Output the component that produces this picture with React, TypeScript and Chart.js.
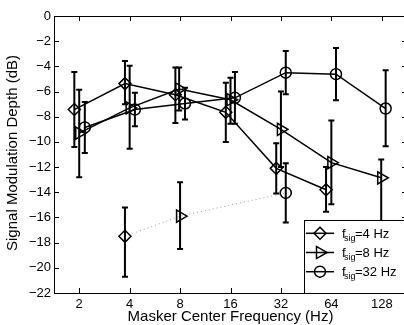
import React, { useEffect, useRef } from "react";
import { Chart, registerables } from "chart.js";

Chart.register(...registerables);

// ---- data ----
const FREQ_TICKS = [2, 4, 8, 16, 32, 64, 128];
const Y_MIN = -22;
const Y_MAX = 0;
const Y_STEP = 2;

const X_LABEL = "Masker Center Frequency (Hz)";
const Y_LABEL = "Signal Modulation Depth (dB)";

// f_sig = 4 Hz (diamond)
const f4X = [1.87, 3.75, 7.5, 15, 30, 59.5];
const f4Y = [-7.43, -5.37, -6.25, -7.65, -12.1, -13.8];
const f4Lo = [-10.4, -7.0, -8.5, -10.0, -14.1, -15.55];
const f4Hi = [-4.45, -3.57, -4.1, -5.3, -10.1, -12.0];

// f_sig = 8 Hz (right triangle)
const f8X = [2, 4, 7.9, 16, 32, 64, 127];
const f8Y = [-9.3, -7.3, -5.8, -6.65, -9.0, -11.65, -12.85];
const f8Lo = [-12.8, -10.55, -7.5, -8.55, -12.0, -14.95, -16.8];
const f8Hi = [-5.85, -3.95, -4.1, -4.9, -6.0, -8.3, -11.4];

// f_sig = 32 Hz (circle)
const f32X = [2.16, 4.3, 8.56, 17.0, 34.2, 68.2, 135];
const f32Y = [-8.85, -7.43, -6.95, -6.5, -4.5, -4.62, -7.35];
const f32Lo = [-10.88, -8.76, -8.23, -8.55, -6.22, -6.7, -10.35];
const f32Hi = [-6.83, -6.1, -5.69, -4.45, -2.78, -2.54, -4.31];

// reference points (dotted gray)
const refX = [3.75, 8, 34.2];
const refY = [-17.5, -15.9, -14.05];
const refLo = [-20.7, -18.5, -16.4];
const refHi = [-15.2, -13.2, -11.7];

const LEGEND_NAMES = ["4 Hz", "8 Hz", "32 Hz"];

const FONT = '"Liberation Sans", Arial, Helvetica, sans-serif';

const pts = (xs: number[], ys: number[]) => xs.map((x, i) => ({ x, y: ys[i] }));

function drawMarker(ctx: CanvasRenderingContext2D, kind: string, x: number, y: number) {
  ctx.beginPath();
  if (kind === "diamond") {
    const r = 6;
    ctx.moveTo(x, y - r);
    ctx.lineTo(x + r, y);
    ctx.lineTo(x, y + r);
    ctx.lineTo(x - r, y);
    ctx.closePath();
  } else if (kind === "triangle") {
    const r = 7;
    for (let k = 0; k < 3; k++) {
      const a = (k * 2 * Math.PI) / 3;
      const px = x + Math.cos(a) * r;
      const py = y + Math.sin(a) * r;
      if (k === 0) ctx.moveTo(px, py);
      else ctx.lineTo(px, py);
    }
    ctx.closePath();
  } else {
    ctx.arc(x, y, 5.5, 0, Math.PI * 2);
  }
  ctx.stroke();
}

const decorPlugin = {
  id: "decor",
  afterDatasetsDraw(chart: any) {
    const ctx: CanvasRenderingContext2D = chart.ctx;
    const xs = chart.scales.x;
    const ys = chart.scales.y;
    const area = chart.chartArea;
    ctx.save();
    // error bars
    ctx.strokeStyle = "#000";
    ctx.lineWidth = 2;
    chart.data.datasets.forEach((ds: any) => {
      ds.data.forEach((p: any, i: number) => {
        const px = xs.getPixelForValue(p.x);
        const y1 = ys.getPixelForValue(ds.errLo[i]);
        const y2 = ys.getPixelForValue(ds.errHi[i]);
        ctx.beginPath();
        ctx.moveTo(px, y1);
        ctx.lineTo(px, y2);
        ctx.moveTo(px - 3, y1);
        ctx.lineTo(px + 3, y1);
        ctx.moveTo(px - 3, y2);
        ctx.lineTo(px + 3, y2);
        ctx.stroke();
      });
    });

    // frame
    ctx.lineWidth = 1;
    ctx.strokeStyle = "#000";
    ctx.strokeRect(area.left + 0.5, area.top + 0.5, area.right - area.left, area.bottom - area.top);
    const tl = 5;
    ctx.beginPath();
    FREQ_TICKS.forEach((v) => {
      const px = Math.round(xs.getPixelForValue(v)) + 0.5;
      ctx.moveTo(px, area.bottom);
      ctx.lineTo(px, area.bottom - tl);
      ctx.moveTo(px, area.top);
      ctx.lineTo(px, area.top + tl);
    });
    for (let v = Y_MIN; v <= Y_MAX; v += Y_STEP) {
      const py = Math.round(ys.getPixelForValue(v)) + 0.5;
      ctx.moveTo(area.left, py);
      ctx.lineTo(area.left + tl, py);
      ctx.moveTo(area.right, py);
      ctx.lineTo(area.right - tl, py);
    }
    ctx.stroke();

    // axis titles
    ctx.fillStyle = "#000";
    ctx.font = `15px ${FONT}`;
    ctx.textAlign = "center";
    ctx.textBaseline = "alphabetic";
    ctx.fillText(X_LABEL, (area.left + area.right) / 2, 320.5);
    ctx.save();
    ctx.translate(17, 153);
    ctx.rotate(-Math.PI / 2);
    ctx.fillText(Y_LABEL, 0, 0);
    ctx.restore();

    // legend
    const lx = 304;
    const ly = 220;
    ctx.fillStyle = "#fff";
    ctx.fillRect(lx, ly, area.right - lx, area.bottom - ly);
    ctx.strokeStyle = "#000";
    ctx.lineWidth = 1;
    ctx.strokeRect(lx + 0.5, ly + 0.5, area.right - lx, area.bottom - ly);
    const kinds = ["diamond", "triangle", "circle"];
    const rows = [233.3, 252.5, 271.7];
    kinds.forEach((k, i) => {
      const cy = rows[i];
      ctx.strokeStyle = "#000";
      ctx.lineWidth = 1.5;
      ctx.beginPath();
      ctx.moveTo(306, cy);
      ctx.lineTo(334, cy);
      ctx.stroke();
      drawMarker(ctx, k, 320, cy);
      ctx.fillStyle = "#000";
      ctx.textAlign = "left";
      ctx.textBaseline = "alphabetic";
      ctx.font = `13px ${FONT}`;
      ctx.fillText("f", 342, cy + 4.5);
      ctx.font = `9px ${FONT}`;
      ctx.fillText("sig", 344, cy + 7.5);
      ctx.font = `13px ${FONT}`;
      ctx.fillText("=" + LEGEND_NAMES[i], 355, cy + 4.5);
    });
    ctx.restore();
  },
};

export default function App() {
  const ref = useRef<HTMLCanvasElement>(null);
  useEffect(() => {
    if (!ref.current) return;
    const common = {
      showLine: true,
      borderColor: "#000",
      borderWidth: 1.5,
      pointBorderColor: "#000",
      pointBackgroundColor: "rgba(0,0,0,0)",
      pointBorderWidth: 1.5,
    };
    const chart = new Chart(ref.current, {
      type: "scatter",
      data: {
        datasets: [
          {
            ...common,
            label: "ref",
            data: pts(refX, refY),
            borderColor: "#9a9a9a",
            borderWidth: 1,
            borderDash: [1, 3],
            pointStyle: ["rectRot", "triangle", "circle"],
            pointRotation: [0, 90, 0],
            pointRadius: [6, 7, 5.5],
            errLo: refLo,
            errHi: refHi,
          } as any,
          {
            ...common,
            label: "4 Hz",
            data: pts(f4X, f4Y),
            pointStyle: "rectRot",
            pointRadius: 6,
            errLo: f4Lo,
            errHi: f4Hi,
          } as any,
          {
            ...common,
            label: "8 Hz",
            data: pts(f8X, f8Y),
            pointStyle: "triangle",
            pointRotation: 90,
            pointRadius: 7,
            errLo: f8Lo,
            errHi: f8Hi,
          } as any,
          {
            ...common,
            label: "32 Hz",
            data: pts(f32X, f32Y),
            pointStyle: "circle",
            pointRadius: 5.5,
            errLo: f32Lo,
            errHi: f32Hi,
          } as any,
        ],
      },
      options: {
        animation: false,
        responsive: false,
        devicePixelRatio: 1,
        layout: { padding: { left: 8, top: 16, right: 13, bottom: 0 } },
        plugins: { legend: { display: false }, tooltip: { enabled: false } },
        scales: {
          x: {
            type: "logarithmic",
            min: Math.SQRT2,
            max: 128 * Math.SQRT2,
            afterBuildTicks: (s: any) => {
              s.ticks = FREQ_TICKS.map((v) => ({ value: v }));
            },
            afterFit: (s: any) => {
              s.height = 32;
            },
            ticks: {
              callback: (v: any) => String(v),
              font: { family: FONT, size: 13 },
              color: "#000",
              padding: 4,
              maxRotation: 0,
              autoSkip: false,
            },
            grid: { display: false, drawTicks: false, tickLength: 0 },
            border: { display: false },
          },
          y: {
            type: "linear",
            min: Y_MIN,
            max: Y_MAX,
            afterFit: (s: any) => {
              s.width = 46;
            },
            ticks: {
              stepSize: Y_STEP,
              callback: (v: any) => (v === 0 ? "0" : "\u2212" + Math.abs(v)),
              font: { family: FONT, size: 13 },
              color: "#000",
              padding: 3,
            },
            grid: { display: false, drawTicks: false, tickLength: 0 },
            border: { display: false },
          },
        },
      } as any,
      plugins: [decorPlugin],
    });
    return () => chart.destroy();
  }, []);
  return (
    <div
      style={{
        position: "absolute",
        left: 0,
        top: 0,
        width: 404,
        height: 325,
        overflow: "hidden",
        background: "#fff",
      }}
    >
      <canvas ref={ref} width={420} height={325} style={{ display: "block" }} />
    </div>
  );
}
